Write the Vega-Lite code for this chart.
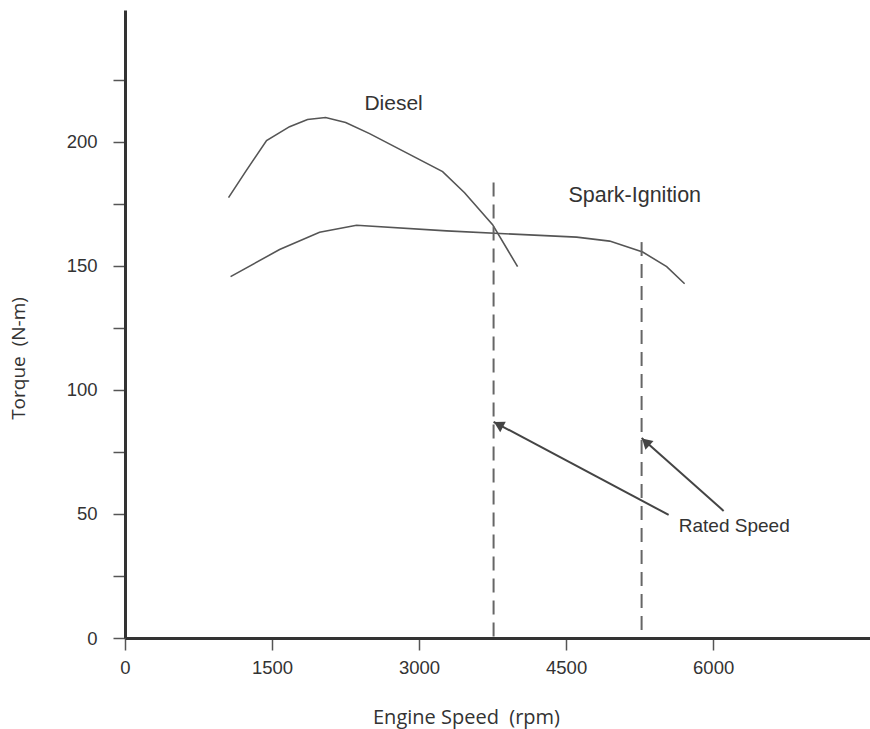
{
  "$schema": "https://vega.github.io/schema/vega-lite/v6.json",
  "width": 745,
  "height": 628,
  "autosize": "none",
  "padding": {"left": 125, "top": 10, "right": 0, "bottom": 91},
  "background": "white",
  "config": {
    "view": {"stroke": null},
    "font": "Liberation Sans"
  },
  "datasets": {
    "curves": [
      {"series": "Diesel", "rpm": 1056, "torque": 177.4},
      {"series": "Diesel", "rpm": 1230, "torque": 187.9},
      {"series": "Diesel", "rpm": 1444, "torque": 200.4},
      {"series": "Diesel", "rpm": 1679, "torque": 206.0},
      {"series": "Diesel", "rpm": 1862, "torque": 208.9},
      {"series": "Diesel", "rpm": 2046, "torque": 209.7},
      {"series": "Diesel", "rpm": 2251, "torque": 207.7},
      {"series": "Diesel", "rpm": 2495, "torque": 203.2},
      {"series": "Diesel", "rpm": 3240, "torque": 187.9},
      {"series": "Diesel", "rpm": 3464, "torque": 179.4},
      {"series": "Diesel", "rpm": 3750, "torque": 166.5},
      {"series": "Diesel", "rpm": 4005, "torque": 149.6},
      {"series": "Spark-Ignition", "rpm": 1077, "torque": 145.6},
      {"series": "Spark-Ignition", "rpm": 1577, "torque": 156.5},
      {"series": "Spark-Ignition", "rpm": 1985, "torque": 163.5},
      {"series": "Spark-Ignition", "rpm": 2362, "torque": 166.3},
      {"series": "Spark-Ignition", "rpm": 3281, "torque": 164.0},
      {"series": "Spark-Ignition", "rpm": 4607, "torque": 161.5},
      {"series": "Spark-Ignition", "rpm": 4944, "torque": 159.9},
      {"series": "Spark-Ignition", "rpm": 5281, "torque": 155.5},
      {"series": "Spark-Ignition", "rpm": 5526, "torque": 149.6},
      {"series": "Spark-Ignition", "rpm": 5709, "torque": 142.7}
    ],
    "rated": [
      {"engine": "Diesel", "rpm": 3760, "top": 183.5, "bottom": 0},
      {"engine": "Spark-Ignition", "rpm": 5270, "top": 159.5, "bottom": 0}
    ],
    "arrows": [
      {"arrow": "a1", "rpm": 5546, "torque": 49.6},
      {"arrow": "a1", "rpm": 3760, "torque": 87.1},
      {"arrow": "a2", "rpm": 6107, "torque": 51.2},
      {"arrow": "a2", "rpm": 5270, "torque": 80.6}
    ],
    "heads": [
      {"arrow": "a1", "rpm": 3810, "torque": 86.0, "dir": 298},
      {"arrow": "a2", "rpm": 5312, "torque": 79.0, "dir": 313}
    ],
    "labels": [
      {"label": "Diesel", "rpm": 2740, "torque": 215, "size": 21},
      {"label": "Spark-Ignition", "rpm": 5200, "torque": 178, "size": 21.5},
      {"label": "Rated Speed", "rpm": 6215, "torque": 45.2, "size": 19}
    ]
  },
  "encoding": {
    "x": {
      "field": "rpm",
      "type": "quantitative",
      "scale": {"domain": [0, 7600], "nice": false, "zero": false},
      "axis": {
        "title": "Engine Speed \u00a0(rpm)",
        "titleFont": "Open Sans",
        "titleFontSize": 20,
        "titleFontWeight": "normal",
        "titleColor": "#333333",
        "titleX": 341,
        "titleY": 85,
        "titleBaseline": "alphabetic",
        "titleAnchor": null,
        "values": [0, 1500, 3000, 4500, 6000],
        "format": "d",
        "grid": false,
        "domainColor": "#333333",
        "domainWidth": 3,
        "tickColor": "#555555",
        "tickWidth": 1.5,
        "tickSize": 12,
        "labelFontSize": 18.5,
        "labelColor": "#333333",
        "labelPadding": 8,
        "labelFlush": false,
        "labelOverlap": false
      }
    },
    "y": {
      "field": "torque",
      "type": "quantitative",
      "scale": {"domain": [0, 253], "nice": false, "zero": false},
      "axis": {
        "title": "Torque \u00a0(N-m)",
        "titleFont": "Open Sans",
        "titleFontSize": 19,
        "titleFontWeight": "normal",
        "titleColor": "#333333",
        "titleX": -101,
        "titleY": 348,
        "titleAngle": 270,
        "titleAlign": "center",
        "titleBaseline": "alphabetic",
        "titleAnchor": null,
        "values": [0, 25, 50, 75, 100, 125, 150, 175, 200, 225],
        "labelExpr": "datum.value % 50 === 0 ? datum.label : ''",
        "grid": false,
        "domainColor": "#333333",
        "domainWidth": 3,
        "tickColor": "#555555",
        "tickWidth": 1.5,
        "tickSize": 12,
        "labelFontSize": 18.5,
        "labelColor": "#333333",
        "labelPadding": 16,
        "labelOverlap": false
      }
    }
  },
  "layer": [
    {
      "data": {"name": "curves"},
      "mark": {"type": "line", "color": "#555555", "strokeWidth": 1.6},
      "encoding": {"detail": {"field": "series"}}
    },
    {
      "data": {"name": "rated"},
      "mark": {"type": "rule", "color": "#666666", "strokeWidth": 2, "strokeDash": [14, 8]},
      "encoding": {
        "y": {"field": "top", "type": "quantitative"},
        "y2": {"field": "bottom"}
      }
    },
    {
      "data": {"name": "arrows"},
      "mark": {"type": "line", "color": "#444444", "strokeWidth": 2},
      "encoding": {"detail": {"field": "arrow"}}
    },
    {
      "data": {"name": "heads"},
      "mark": {"type": "point", "shape": "triangle-up", "filled": true, "color": "#444444", "size": 140, "opacity": 1},
      "encoding": {
        "angle": {"field": "dir", "type": "quantitative", "scale": null}
      }
    },
    {
      "data": {"name": "labels"},
      "mark": {"type": "text", "color": "#333333", "align": "center", "baseline": "middle", "font": "Liberation Sans"},
      "encoding": {
        "text": {"field": "label"},
        "size": {"field": "size", "type": "quantitative", "scale": null}
      }
    }
  ]
}
